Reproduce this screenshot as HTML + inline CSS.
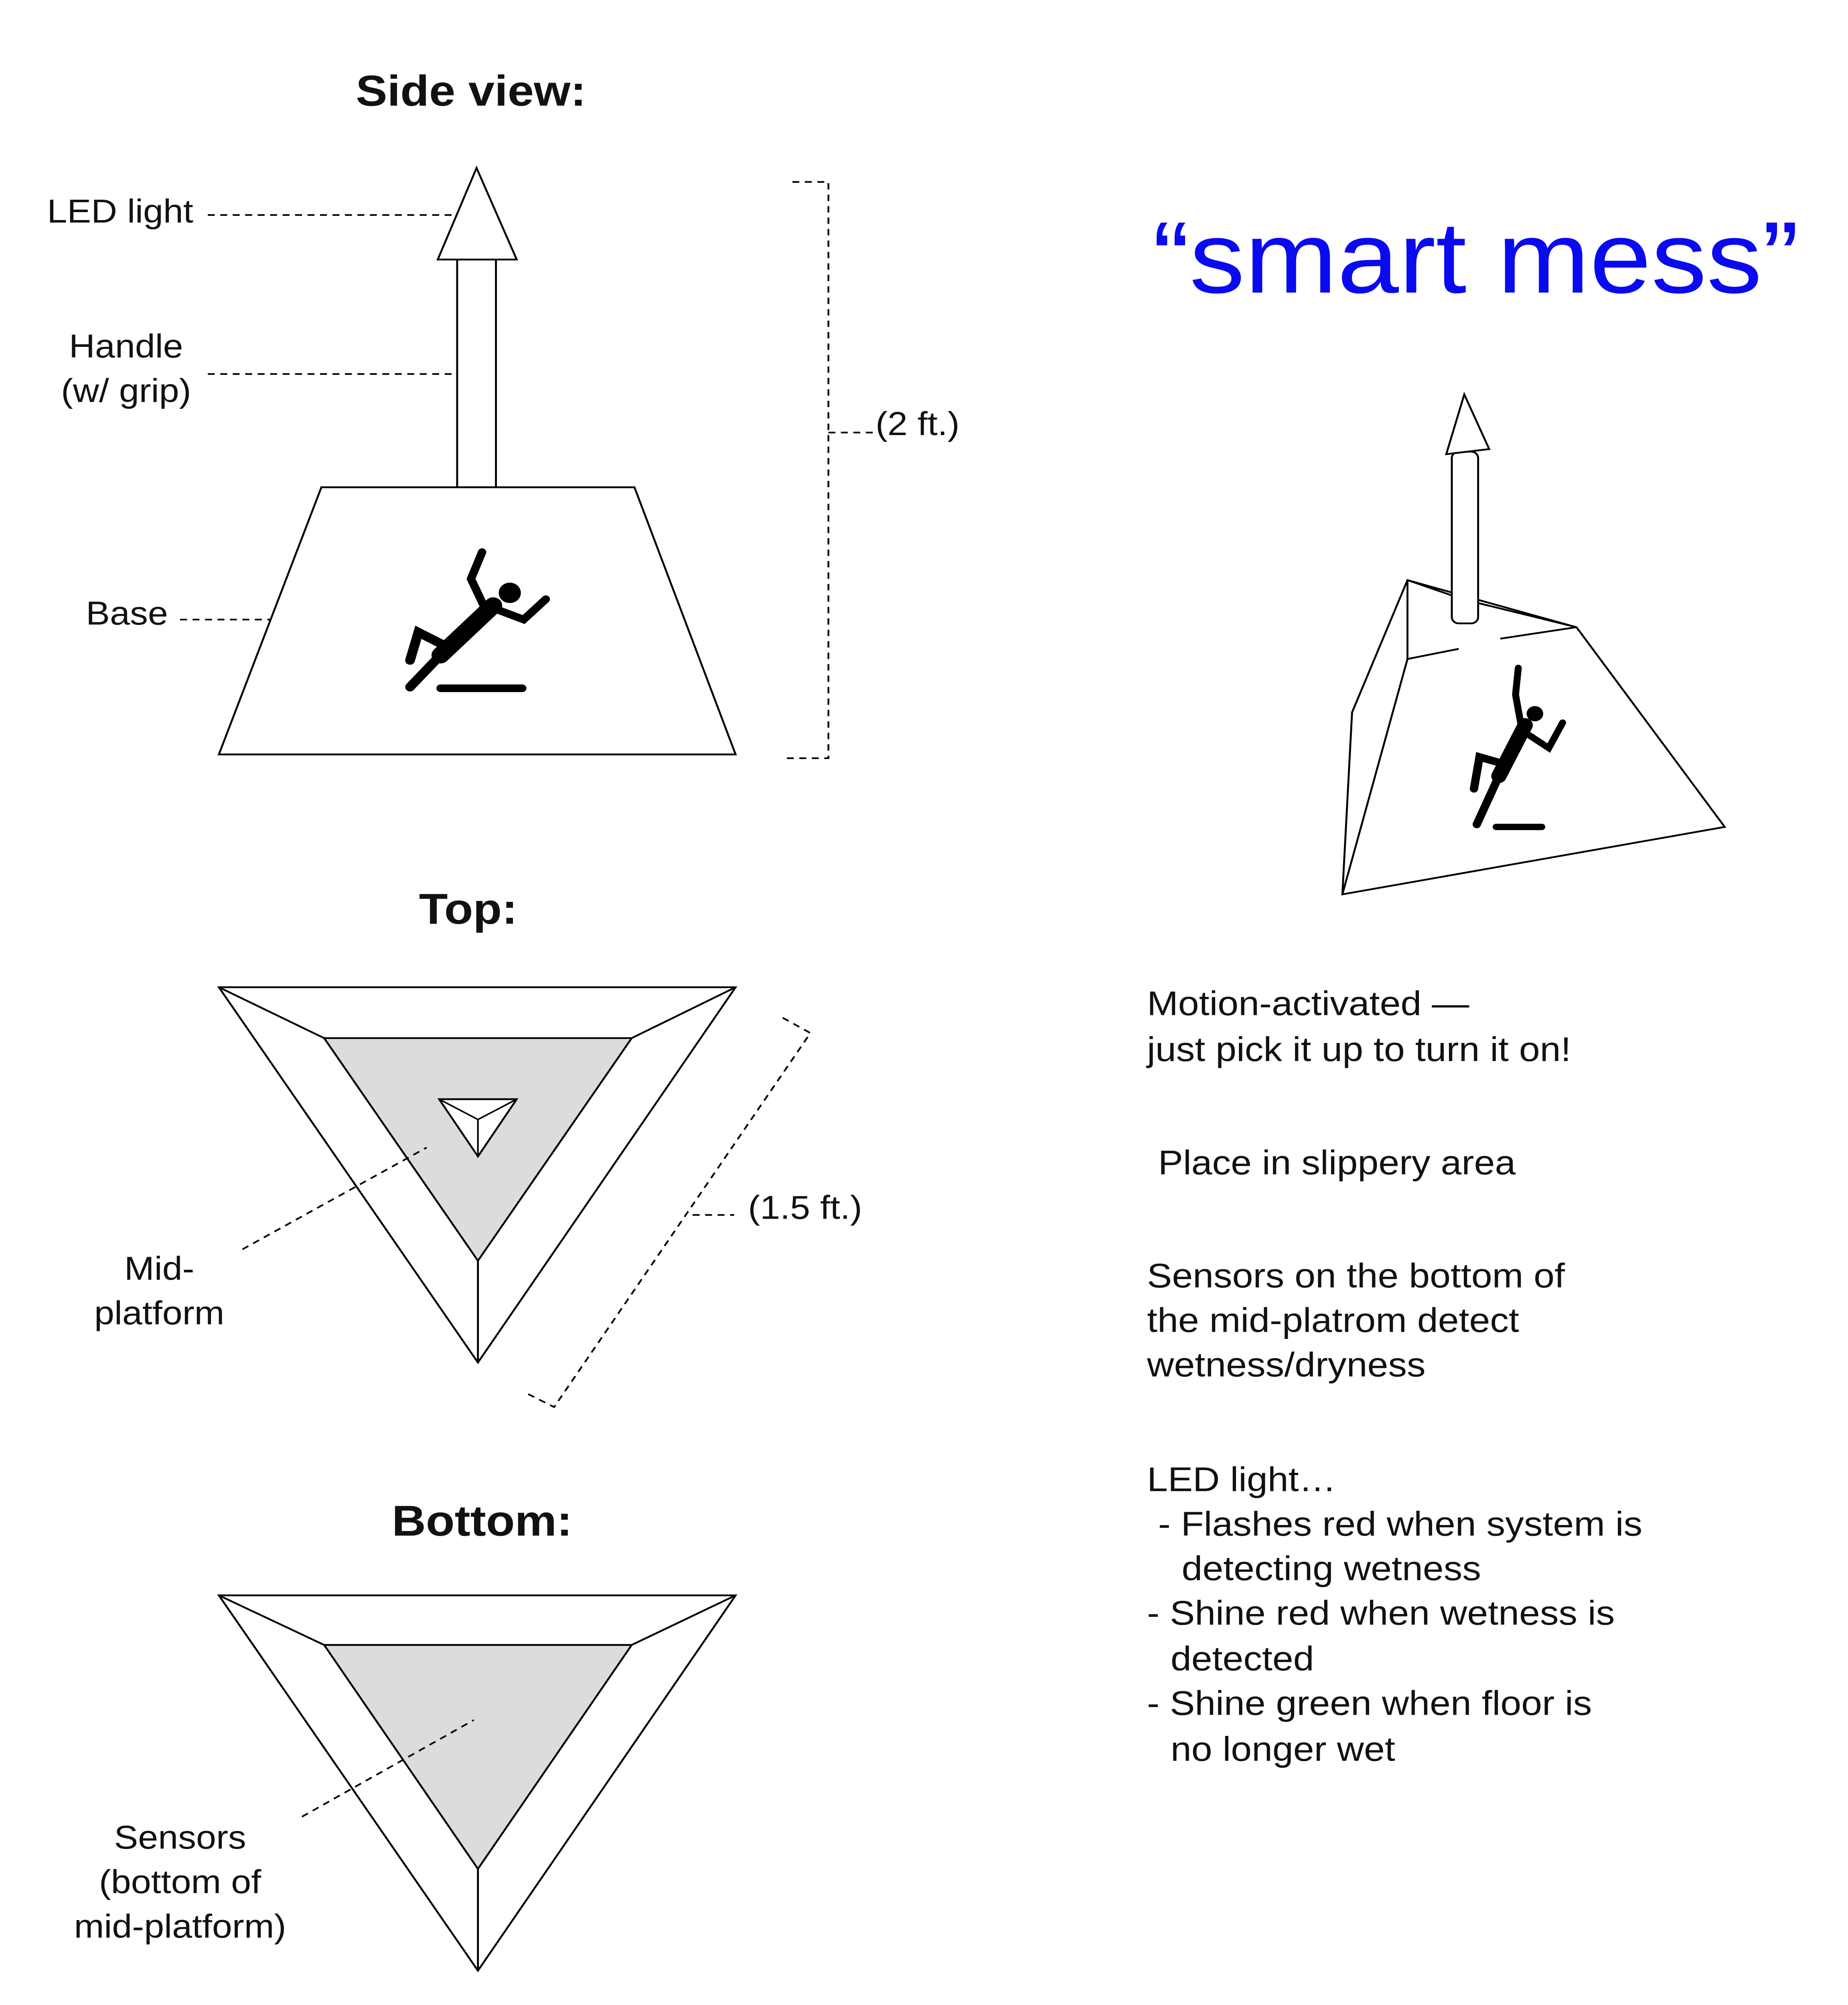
<!DOCTYPE html>
<html><head><meta charset="utf-8"><style>
html,body{margin:0;padding:0;background:#fff;width:100%;height:100%;overflow:hidden;}
svg{display:block;width:100vw;height:100vh;}
text{font-family:"Liberation Sans","DejaVu Sans",sans-serif;fill:#111;}
.lbl{font-size:26px;}
.hd{font-size:34px;font-weight:bold;}
.rt{font-size:27px;}
.d{stroke:#000;stroke-width:1.3;stroke-dasharray:5,4;fill:none;}
.s{stroke:#000;stroke-width:1.4;fill:#fff;}
</style></head><body>
<svg viewBox="0 0 1334 1576" preserveAspectRatio="none" xmlns="http://www.w3.org/2000/svg">
<rect width="1334" height="1576" fill="#fff"/>
<g>
<text class="hd" x="340" y="83" text-anchor="middle">Side view:</text>
<rect class="s" x="330" y="204" width="28" height="179"/>
<polygon class="s" points="344,132 316,204 373,204"/>
<polygon class="s" points="232,383 458,383 531,593 158,593"/>
<g stroke="#000" stroke-linecap="round" fill="none">
<line x1="318" y1="541" x2="377" y2="541" stroke-width="6"/>
<circle cx="368" cy="466" r="8" fill="#000" stroke="none"/>
<line x1="356" y1="476" x2="318" y2="515" stroke-width="13"/>
<polyline points="318,515 296,540" stroke-width="7"/>
<polyline points="322,508 302,497 296,519" stroke-width="7"/>
<polyline points="350,478 340,455 348,434" stroke-width="6"/>
<polyline points="356,478 378,487 394,471" stroke-width="6"/>
</g>
<text class="lbl" x="34" y="175">LED light</text>
<line class="d" x1="150" y1="169" x2="330" y2="169"/>
<text class="lbl" x="91" y="281" text-anchor="middle">Handle</text>
<text class="lbl" x="91" y="316" text-anchor="middle">(w/ grip)</text>
<line class="d" x1="150" y1="294" x2="330" y2="294"/>
<text class="lbl" x="62" y="491">Base</text>
<line class="d" x1="130" y1="487" x2="195" y2="487"/>
<polyline class="d" points="572,143 598,143 598,596 568,596"/>
<line class="d" x1="598" y1="340" x2="630" y2="340"/>
<text class="lbl" x="632" y="342">(2 ft.)</text>
</g>
<text x="832" y="230" style="font-size:80px;fill:#0a0af0">“smart mess”</text>
<g stroke="#000" stroke-width="1.4" fill="none">
<polygon points="1016,456 976,560 969,703 1245,650 1138,493" fill="#fff"/>
<line x1="1016" y1="456" x2="1048" y2="468"/>
<line x1="1067" y1="474" x2="1138" y2="493"/>
<line x1="1016" y1="456" x2="1016" y2="518"/>
<line x1="1016" y1="518" x2="1053" y2="510"/>
<line x1="1083" y1="502" x2="1138" y2="493"/>
<line x1="969" y1="703" x2="1016" y2="518"/>
<rect x="1048" y="355" width="19" height="135" rx="5" fill="#fff"/>
<polygon points="1057,310 1044,357 1075,353" fill="#fff"/>
<g stroke-linecap="round">
<line x1="1080" y1="650" x2="1113" y2="650" stroke-width="5"/>
<circle cx="1108" cy="561" r="6" fill="#000" stroke="none"/>
<line x1="1101" y1="570" x2="1082" y2="610" stroke-width="11"/>
<polyline points="1082,610 1066,648" stroke-width="6"/>
<polyline points="1084,600 1068,595 1064,620" stroke-width="6"/>
<polyline points="1098,570 1094,546 1096,525" stroke-width="5"/>
<polyline points="1104,578 1118,588 1128,568" stroke-width="5"/>
</g>
</g>
<g>
<text class="hd" x="338" y="726" text-anchor="middle">Top:</text>
<polygon class="s" points="158,776 531,776 345,1071"/>
<polygon class="s" points="234,816 456,816 345,991" style="fill:#dcdcdc"/>
<g stroke="#000" stroke-width="1.4"><line x1="158" y1="776" x2="234" y2="816"/><line x1="531" y1="776" x2="456" y2="816"/><line x1="345" y1="991" x2="345" y2="1071"/></g>
<polygon class="s" points="317,864 373,864 345,909"/>
<g stroke="#000" stroke-width="1.2"><line x1="317" y1="864" x2="345" y2="880"/><line x1="373" y1="864" x2="345" y2="880"/><line x1="345" y1="909" x2="345" y2="880"/></g>
<line class="d" x1="175" y1="982" x2="308" y2="902"/>
<text class="lbl" x="115" y="1006" text-anchor="middle">Mid-</text>
<text class="lbl" x="115" y="1041" text-anchor="middle">platform</text>
<polyline class="d" points="565,800 585,812 400,1106 378,1094"/>
<line class="d" x1="500" y1="955" x2="530" y2="955"/>
<text class="lbl" x="540" y="958">(1.5 ft.)</text>
</g>
<g>
<text class="hd" x="348" y="1207" text-anchor="middle">Bottom:</text>
<polygon class="s" points="158,1254 531,1254 345,1549"/>
<polygon class="s" points="234,1293 456,1293 345,1469" style="fill:#dcdcdc"/>
<g stroke="#000" stroke-width="1.4"><line x1="158" y1="1254" x2="234" y2="1293"/><line x1="531" y1="1254" x2="456" y2="1293"/><line x1="345" y1="1469" x2="345" y2="1549"/></g>
<line class="d" x1="218" y1="1428" x2="342" y2="1352"/>
<text class="lbl" x="130" y="1453" text-anchor="middle">Sensors</text>
<text class="lbl" x="130" y="1488" text-anchor="middle">(bottom of</text>
<text class="lbl" x="130" y="1523" text-anchor="middle">mid-platform)</text>
</g>
<g>
<text class="rt" x="828" y="798">Motion-activated —</text>
<text class="rt" x="828" y="834">just pick it up to turn it on!</text>
<text class="rt" x="836" y="923">Place in slippery area</text>
<text class="rt" x="828" y="1012">Sensors on the bottom of</text>
<text class="rt" x="828" y="1047">the mid-platrom detect</text>
<text class="rt" x="828" y="1082">wetness/dryness</text>
<text class="rt" x="828" y="1172">LED light…</text>
<text class="rt" x="836" y="1207">- Flashes red when system is</text>
<text class="rt" x="853" y="1242">detecting wetness</text>
<text class="rt" x="828" y="1277">- Shine red when wetness is</text>
<text class="rt" x="845" y="1313">detected</text>
<text class="rt" x="828" y="1348">- Shine green when floor is</text>
<text class="rt" x="845" y="1384">no longer wet</text>
</g>
</svg>
</body></html>
